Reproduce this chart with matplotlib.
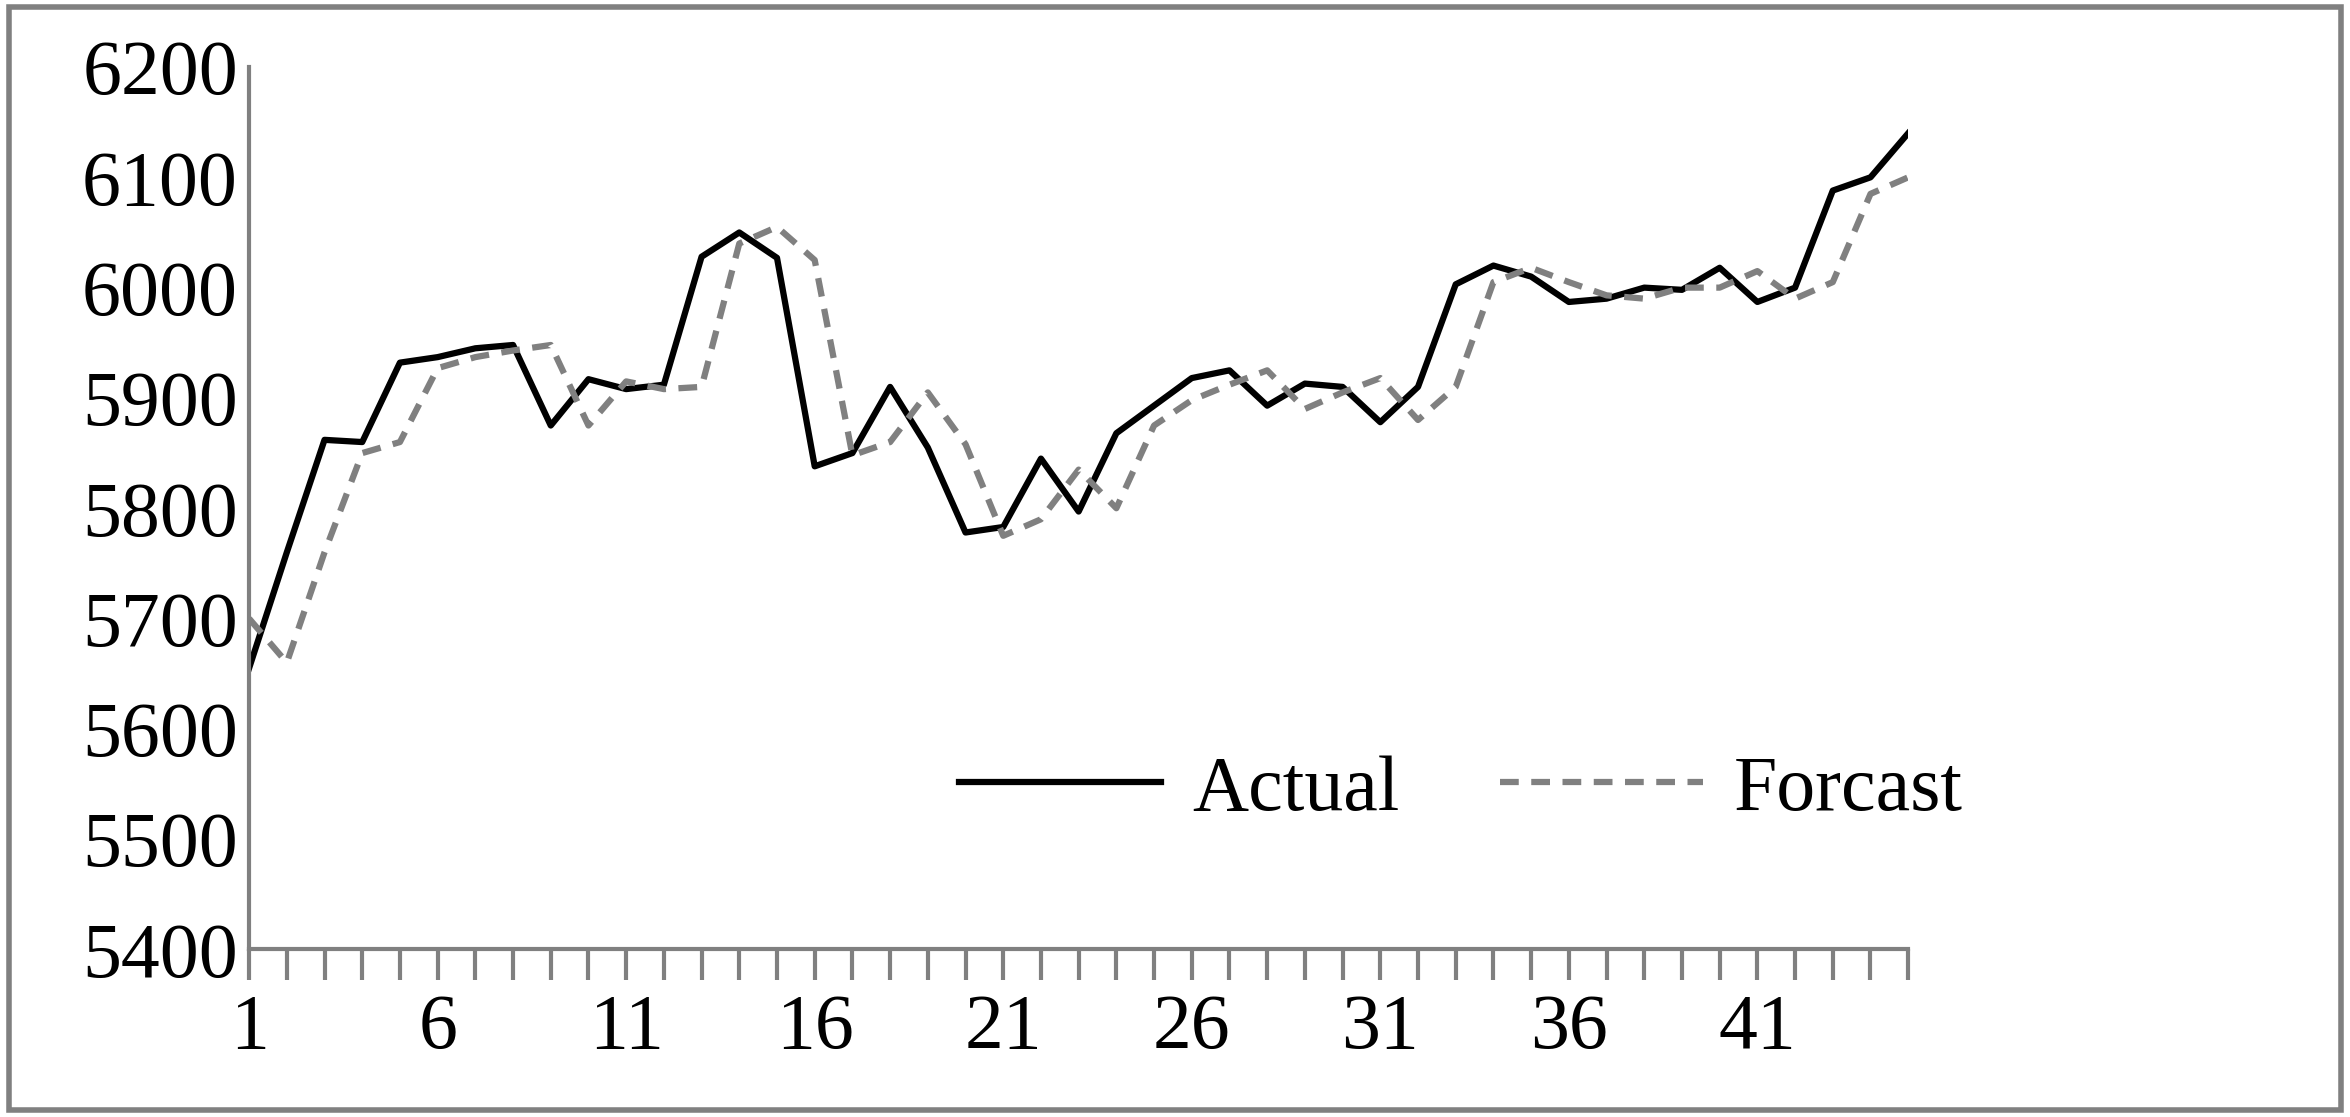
import matplotlib.pyplot as plt
from matplotlib.patches import Rectangle

periods = list(range(1, 46))
actual = [5655, 5760, 5862, 5860, 5932, 5937, 5945, 5948, 5875, 5917,
          5908, 5912, 6028, 6050, 6027, 5838, 5850, 5910, 5855, 5778,
          5783, 5845, 5797, 5868, 5893, 5918, 5925, 5893, 5913, 5910,
          5878, 5910, 6003, 6020, 6010, 5987, 5990, 6000, 5998, 6018,
          5987, 6000, 6088, 6100, 6140]
forecast = [5700, 5660, 5760, 5850, 5860, 5927, 5937, 5943, 5948, 5875,
            5915, 5908, 5910, 6040, 6055, 6025, 5848, 5860, 5905, 5858,
            5775, 5790, 5835, 5800, 5875, 5898, 5912, 5925, 5890, 5905,
            5918, 5880, 5910, 6005, 6018, 6005, 5993, 5990, 6000, 6000,
            6015, 5990, 6005, 6085, 6100]

plt.rcParams['font.family'] = ['Liberation Serif', 'DejaVu Serif']
fig = plt.figure(figsize=(23.5, 11.17), dpi=100)
ax = fig.add_axes([0.106, 0.150, 0.706, 0.790])

ax.plot(periods, actual, color='black', lw=4.5, label='Actual')
ax.plot(periods, forecast, color='#808080', lw=4.5, ls=(0, (3, 2)), label='Forcast')

ax.set_xlim(1, 45)
ax.set_ylim(5400, 6200)
ax.set_yticks(range(5400, 6201, 100))
ax.set_xticks(periods)
ax.set_xticklabels([str(p) if (p - 1) % 5 == 0 else '' for p in periods])
ax.tick_params(axis='x', direction='out', length=22, width=3, color='#808080',
               labelsize=56, pad=10)
ax.tick_params(axis='y', length=0, labelsize=56, pad=8)
for s in ['top', 'right']:
    ax.spines[s].set_visible(False)
for s in ['left', 'bottom']:
    ax.spines[s].set_color('#808080')
    ax.spines[s].set_linewidth(3)

ax.legend(loc='lower right', bbox_to_anchor=(1.075, 0.06), ncol=2, frameon=False,
          fontsize=56, handlelength=2.6, columnspacing=1.3, handletextpad=0.4)

fig.patches.append(Rectangle((0.004, 0.006), 0.992, 0.988, transform=fig.transFigure,
                             fill=False, ec='#808080', lw=4))
fig.savefig('out.png')
